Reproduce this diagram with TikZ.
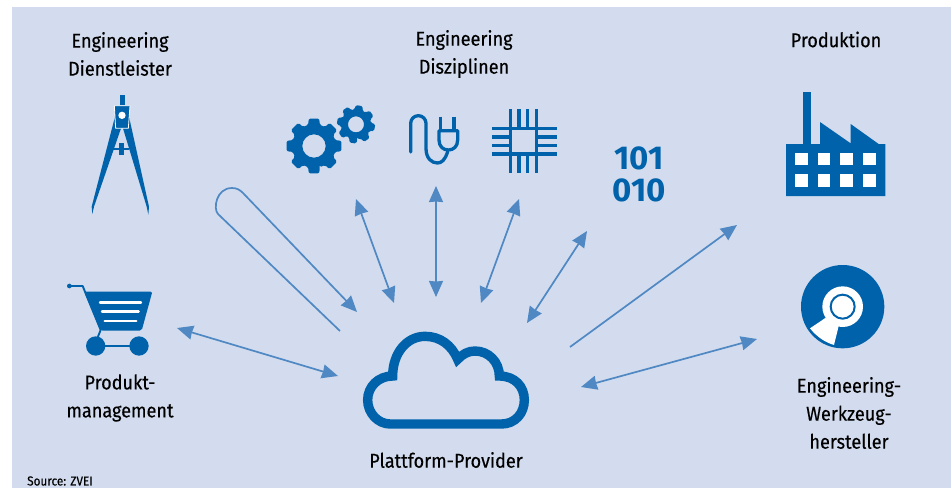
\documentclass[tikz,border=0pt]{standalone}
\usepackage{fontspec}
\setmainfont{Fira Sans}[FakeStretch=0.905,FakeBold=0.35]
\newfontfamily\numfont{Fira Sans}[FakeStretch=1.0]
\usetikzlibrary{arrows.meta}
\definecolor{bgblue}{HTML}{D2DCEE}
\definecolor{iconblue}{HTML}{0062AA}
\definecolor{arrowblue}{HTML}{5088C3}
\newcommand{\gearicon}[7]{%
  \fill[iconblue,even odd rule,rounded corners=1.6pt]
    ({#1+#4*cos(#7-15)},{#2+#4*sin(#7-15)})
    foreach \gk in {1,...,#6}{
      -- ({#1+#3*cos(#7+360/#6*(\gk-1)-11)},{#2+#3*sin(#7+360/#6*(\gk-1)-11)})
      -- ({#1+#3*cos(#7+360/#6*(\gk-1)+11)},{#2+#3*sin(#7+360/#6*(\gk-1)+11)})
      -- ({#1+#4*cos(#7+360/#6*(\gk-1)+15)},{#2+#4*sin(#7+360/#6*(\gk-1)+15)})
      -- ({#1+#4*cos(#7+360/#6*\gk-15)},{#2+#4*sin(#7+360/#6*\gk-15)})
    } -- cycle
    (#1,#2) circle[radius=#5];}
\tikzset{
  label/.style={font=\fontsize{20}{28}\selectfont,align=center,text=black,inner sep=0pt},
  biarrow/.style={draw=arrowblue,line width=1.7pt,{Stealth[length=16pt,width=14pt,inset=0.5pt]}-{Stealth[length=16pt,width=14pt,inset=0.5pt]}},
  onearrow/.style={draw=arrowblue,line width=1.7pt,-{Stealth[length=16pt,width=14pt,inset=0.5pt]}},
  iconline/.style={draw=iconblue,line cap=round,line join=round},
}
\begin{document}
\begin{tikzpicture}[x=1pt,y=-1pt]
\useasboundingbox (0,0) rectangle (951,488);
\fill[white] (0,0) rectangle (951,488);
\fill[bgblue] (12,7) rectangle (951,488);

% labels
\node[label] (dienst) at (120,54) {Engineering\\Dienstleister};
\node[label] (diszi) at (464,54) {Engineering\\Disziplinen};
\node[label] (prod) at (836,39.5) {Produktion};
\node[label] (pm) at (120,398) {Produkt-\\management};
\node[label] (wzh) at (849,413) {Engineering-\\Werkzeug-\\hersteller};
\node[label] (pp) at (446,460) {Plattform-Provider};
\node[font=\fontsize{13}{14}\selectfont,anchor=west,inner sep=0pt] (src) at (27,481) {Source: ZVEI};
\node[font=\numfont\bfseries\fontsize{33}{32}\selectfont,text=iconblue,inner sep=0pt] (bin1) at (639,158) {101};
\node[font=\numfont\bfseries\fontsize{33}{32}\selectfont,text=iconblue,inner sep=0pt] (bin2) at (639,190) {010};

% compass
\begin{scope}[shift={(60,80)},scale=1/3]
  \fill[iconblue] (180,45) rectangle (194,75);
  \fill[iconblue] (165,110)--(183,145)--(102,380)--(97,402)--(95,380)--cycle;
  \fill[iconblue] (207,110)--(189,145)--(260,380)--(265,404)--(267,380)--cycle;
  \fill[iconblue] (160,203) rectangle (208,209);
  \fill[iconblue] (178,188) rectangle (192,226);
  \fill[iconblue,draw=white,line width=0.8pt] (163,77)--(210,77)--(205,145)--(167,145)--cycle;
  \fill[white] (186,106) circle[radius=11];
\end{scope}

% cart
\begin{scope}[shift={(60,80)},scale=1/3]
  \fill[iconblue] (28,618) circle[radius=7];
  \draw[iconline,line width=1.9pt] (28,618)--(68,618)--(122,750)--(112,775);
  \fill[iconblue,rounded corners=2pt] (72,635)--(277,635)--(245,752)--(122,752)--cycle;
  \fill[iconblue] (107,798) circle[radius=29] (237,798) circle[radius=29];
  \draw[iconblue,line width=2.6pt] (107,798)--(237,798);
  \draw[white,line width=2.4pt,line cap=round] (120,667)--(243,667) (126,695)--(236,695) (134,723)--(229,723);
\end{scope}

% gears, plug, chip
\begin{scope}[shift={(280,90)},scale=1/3]
  \gearicon{102}{168}{84}{66}{35}{8}{90}
  \gearicon{228}{103}{58}{45}{24}{8}{100}
  \draw[iconline,line width=3.3pt] (392,186)--(392,100) arc[start angle=180,end angle=360,radius=23] --(438,175)
     .. controls (438,205) and (455,219) .. (472,219) .. controls (485,219) and (495,210) .. (503,185);
  \draw[iconblue,line width=3.3pt,line join=round] (477,122)--(533,122)--(533,150) .. controls (533,170) and (520,180) .. (505,180) .. controls (490,180) and (477,170) .. (477,150)--cycle;
  \draw[iconblue,line width=3.3pt] (482,80)--(482,122) (522,80)--(522,122);
  \draw[iconblue,line width=3.5pt]
    (692,58)--(692,250) (717,58)--(717,250) (743,58)--(743,250) (770,58)--(770,250)
    (637,115)--(830,115) (637,141)--(830,141) (637,167)--(830,167) (637,192)--(830,192);
  \filldraw[fill=bgblue,draw=iconblue,line width=3.5pt] (692,115) rectangle (770,192);
\end{scope}

% factory and disc
\begin{scope}[shift={(760,80)},scale=1/3]
  \fill[iconblue] (129,35) rectangle (152,195);
  \fill[iconblue] (78,192)--(180,192)--(180,126)--(272,190)--(272,132)--(356,192)--(376,192)--(376,348)--(78,348)--cycle;
  \foreach \wx in {105,173,241,309}
    \foreach \wy in {218,283}
      \fill[white] (\wx,\wy) rectangle ++(38,38);
  \fill[iconblue] (248,680) circle[radius=125];
  \fill[white] (248,680) circle[radius=61];
  \fill[white] (150,745)--(196,714)--(236,738)--(222,795) .. controls (195,787) and (170,770) .. (150,745) --cycle;
  \draw[iconblue,line width=2pt] (248,680) circle[radius=36];
\end{scope}

% cloud
\begin{scope}[shift={(340,320)},scale=1/3]
  \draw[iconblue,line width=9.4pt,miter limit=10]
    (150,312)--(485,312) .. controls (525,312) and (553,280) .. (553,240) .. controls (553,200) and (525,168) .. (478,168)
    .. controls (478,125) and (445,93) .. (405,93) .. controls (385,93) and (368,102) .. (353,118)
    .. controls (335,75) and (300,49) .. (255,49) .. controls (200,49) and (158,100) .. (158,168)
    .. controls (115,168) and (83,200) .. (83,240) .. controls (83,280) and (115,312) .. (150,312) --cycle;
\end{scope}

% connector ends
\coordinate (pillstart) at (340,331);
\coordinate (pilla) at (218,214);
\coordinate (pillb) at (243,193);
\coordinate (pilltip) at (357,312);
\coordinate (cartend) at (177,328);
\coordinate (cartcloud) at (338,376);
\coordinate (gearend) at (356,199);
\coordinate (gearcloud) at (394,303);
\coordinate (plugend) at (436,186);
\coordinate (plugcloud) at (436,297);
\coordinate (chipend) at (519,199);
\coordinate (chipcloud) at (481,303);
\coordinate (binend) at (587,231);
\coordinate (bincloud) at (527,323);
\coordinate (factstart) at (570,347);
\coordinate (factend) at (737,225);
\coordinate (diskend) at (757,339);
\coordinate (diskcloud) at (581,387);

\draw[onearrow] (pillstart)--(pilla) .. controls (213,209) and (216,188) .. (232,188) .. controls (237,188) and (240,190) .. (pillb)--(pilltip);
\draw[biarrow] (cartend)--(cartcloud);
\draw[biarrow] (gearend)--(gearcloud);
\draw[biarrow] (plugend)--(plugcloud);
\draw[biarrow] (chipend)--(chipcloud);
\draw[biarrow] (binend)--(bincloud);
\draw[onearrow] (factstart)--(factend);
\draw[biarrow] (diskend)--(diskcloud);
\end{tikzpicture}
\end{document}
